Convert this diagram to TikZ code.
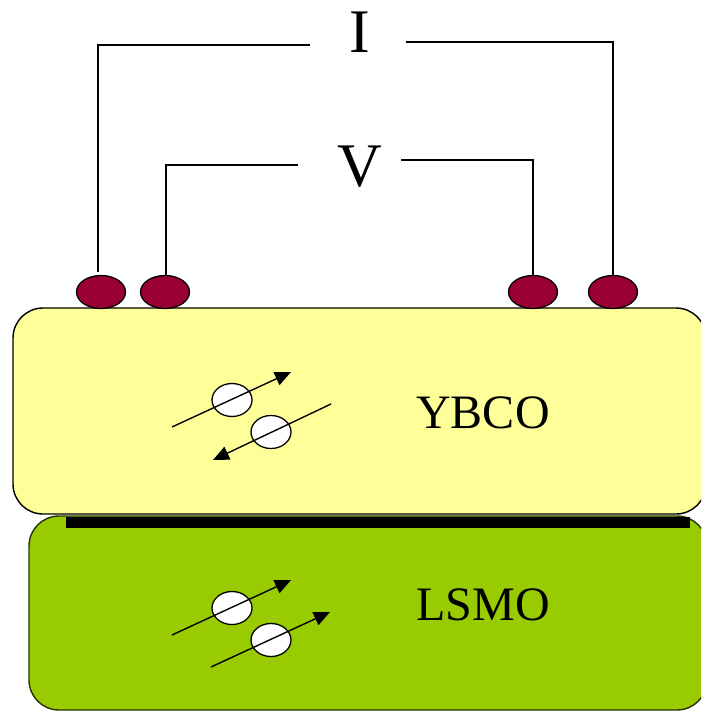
\documentclass[tikz,border=0pt]{standalone}
\usepackage{fontspec}
\setmainfont{Liberation Serif}
\usetikzlibrary{arrows.meta,shapes.geometric}
\definecolor{ybco}{RGB}{255,255,153}
\definecolor{lsmo}{RGB}{153,204,0}
\definecolor{pad}{RGB}{153,0,51}
\tikzset{
 x=1pt,y=-1pt,
 wire/.style={draw=black,line width=1.3pt},
 padnode/.style={ellipse,draw=black,fill=pad,line width=1.3pt,minimum width=49pt,minimum height=33pt,inner sep=0pt},
 spin/.style={ellipse,draw=black,fill=white,line width=1.3pt,minimum width=40pt,minimum height=33pt,inner sep=0pt},
 spinarrow/.style={draw=black,line width=1.4pt,-{Triangle[length=16pt,width=14pt]}},
 lab/.style={inner sep=0pt,text=black},
}
\begin{document}
\begin{tikzpicture}
\useasboundingbox (0,0) rectangle (701,711);
\begin{scope}
\clip (0,0) rectangle (701,711);
\draw[fill=lsmo,draw=black!75!lsmo,line width=1.4pt,rounded corners=30pt] (29,516) rectangle (707,710);
\draw[fill=ybco,line width=1.4pt,rounded corners=30pt] (13,308) rectangle (706,514);
\fill[black] (66,517) rectangle (690,528);
\end{scope}
\node[padnode] (p1) at (101,292) {};
\node[padnode] (p2) at (165,292) {};
\node[padnode] (p3) at (533,292) {};
\node[padnode] (p4) at (613,292) {};
\node[lab,font=\fontsize{62}{62}\selectfont] (I) at (360,32) {I};
\node[lab,font=\fontsize{62}{62}\selectfont] (V) at (360,167) {V};
\node[lab,font=\fontsize{48}{48}\selectfont] (y) at (483,413) {YBCO};
\node[lab,font=\fontsize{48}{48}\selectfont] (l) at (483,605) {LSMO};
\coordinate (i1) at (310,45); \coordinate (i2) at (98,45);
\coordinate (i3) at (406,42); \coordinate (i4) at (613,42);
\coordinate (v1) at (298,165); \coordinate (v2) at (166,165);
\coordinate (v3) at (401,160); \coordinate (v4) at (533,160);
\draw[wire,shorten >=3pt] (i1) -- (i2) -- (p1.north -| i2);
\draw[wire] (i3) -- (i4) -- (p4.north);
\draw[wire] (v1) -- (v2) -- (p2.north -| v2);
\draw[wire] (v3) -- (v4) -- (p3.north);
\node[spin] (s1) at (232,400) {};
\node[spin] (s2) at (271,432) {};
\node[spin] (s3) at (232,608) {};
\node[spin] (s4) at (271,640) {};
\coordinate (a1s) at (172,427); \coordinate (a1e) at (291,372);
\coordinate (a2s) at (331,404); \coordinate (a2e) at (213,460);
\coordinate (a3s) at (172,635); \coordinate (a3e) at (291,580);
\coordinate (a4s) at (211,667); \coordinate (a4e) at (330,612);
\draw[spinarrow] (a1s) -- (a1e);
\draw[spinarrow] (a2s) -- (a2e);
\draw[spinarrow] (a3s) -- (a3e);
\draw[spinarrow] (a4s) -- (a4e);
\end{tikzpicture}
\end{document}
